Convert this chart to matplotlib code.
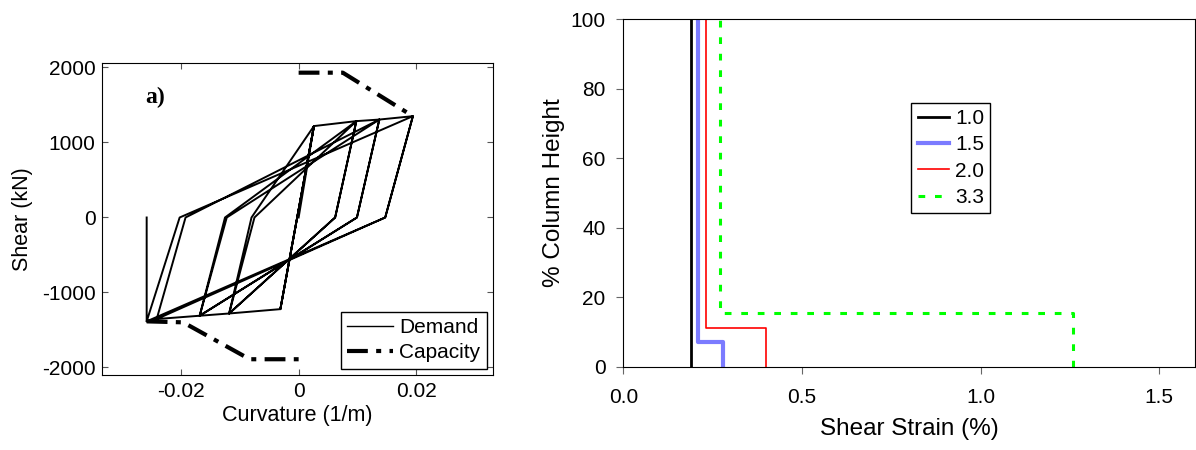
import numpy as np
import matplotlib
matplotlib.use('Agg')
import matplotlib.pyplot as plt
from matplotlib.lines import Line2D

plt.rcParams['font.family'] = ['Liberation Sans', 'DejaVu Sans']
plt.rcParams['axes.unicode_minus'] = False

# ---- panel a) : shear vs curvature hysteresis ----
demand_curv = [0.0, 0.0026, -0.0031, 0.0026, -0.0031, -0.0118, -0.0080, 0.0026, 0.0098,
               0.0062, -0.0118, -0.0075, 0.0098, 0.0062, -0.0118, -0.0168, -0.0125,
               0.0098, 0.0137, 0.0099, -0.0168, -0.0122, 0.0137, 0.0099, -0.0168,
               -0.0241, -0.0192, 0.0137, 0.0194, 0.0147, -0.0241, -0.0258, -0.0202,
               0.0194, 0.0147, -0.0258, -0.0258]
demand_shear = [0, 1219, -1222, 1219, -1222, -1280, 0, 1219, 1285,
                0, -1280, 0, 1285, 0, -1280, -1310, 0,
                1285, 1306, 0, -1310, 0, 1306, 0, -1310,
                -1354, 0, 1306, 1351, 0, -1354, -1385, 0,
                1351, 0, -1385, 0]

cap_pos_curv = [0.0, 0.0075, 0.0194]
cap_pos_shear = [1931, 1931, 1351]
cap_neg_curv = [-0.0258, -0.0196, -0.0083, 0.0]
cap_neg_shear = [-1385, -1398, -1890, -1890]

# ---- panel b) : shear strain profiles ----
ratios = ['1.0', '1.5', '2.0', '3.3']
strain_10 = [0.190, 0.190]
height_10 = [0, 100]
strain_15 = [0.278, 0.278, 0.209, 0.209]
height_15 = [0, 7.2, 7.2, 100]
strain_20 = [0.400, 0.400, 0.230, 0.230]
height_20 = [0, 11.0, 11.0, 100]
strain_33 = [1.259, 1.259, 0.269, 0.269]
height_33 = [0, 15.5, 15.5, 100]

fig = plt.figure(figsize=(11.96, 4.5), dpi=100)

ax1 = fig.add_axes([0.0857, 0.1667, 0.3265, 0.6933])
ax1.plot(demand_curv, demand_shear, color='black', lw=1.4)
cap_style = dict(color='black', lw=3, linestyle=(0, (5, 2, 1.2, 2)))
ax1.plot(cap_pos_curv, cap_pos_shear, **cap_style)
ax1.plot(cap_neg_curv, cap_neg_shear, **cap_style)
ax1.set_xlim(-0.0333, 0.033)
ax1.set_ylim(-2100, 2060)
ax1.set_xticks([-0.02, 0, 0.02])
ax1.set_xticklabels(['-0.02', '0', '0.02'])
ax1.set_yticks([-2000, -1000, 0, 1000, 2000])
ax1.tick_params(direction='in', length=4, top=True, right=True, labelsize=15,
                color='#555555', pad=5)
ax1.set_xlabel('Curvature (1/m)', fontsize=15.5, labelpad=3)
ax1.set_ylabel('Shear (kN)', fontsize=15.5, labelpad=6)
ax1.text(-0.0261, 1600, 'a)', fontsize=17, fontweight='bold',
         family='Liberation Serif', va='center', ha='left')
handles = [Line2D([], [], color='black', lw=1.0),
           Line2D([], [], **cap_style)]
leg1 = ax1.legend(handles, ['Demand', 'Capacity'], loc='lower right', fontsize=15,
                  fancybox=False, edgecolor='black', framealpha=1,
                  borderaxespad=0.3, handlelength=2.2, handletextpad=0.3,
                  borderpad=0.3, labelspacing=0.3)
leg1.get_frame().set_linewidth(1.0)

ax2 = fig.add_axes([0.5213, 0.1851, 0.4778, 0.772])
ax2.plot(strain_10, height_10, color='black', lw=2.0, label=ratios[0])
ax2.plot(strain_15, height_15, color='#7b7bff', lw=3.0, label=ratios[1])
ax2.plot(strain_20, height_20, color='red', lw=1.2, label=ratios[2])
ax2.plot(strain_33, height_33, color='#00ff00', lw=2.2, linestyle=(0, (2.2, 3.2)),
         label=ratios[3])
ax2.set_xlim(0, 1.6)
ax2.set_ylim(0, 100)
ax2.set_xticks([0.0, 0.5, 1.0, 1.5])
ax2.set_xticklabels(['0.0', '0.5', '1.0', '1.5'])
ax2.set_yticks([0, 20, 40, 60, 80, 100])
ax2.tick_params(direction='out', length=5, labelsize=15, color='#666666', pad=10)
ax2.tick_params(axis='y', pad=8)
ax2.set_xlabel('Shear Strain (%)', fontsize=17.5, labelpad=8)
ax2.set_ylabel('% Column Height', fontsize=17.5, labelpad=4)
leg2 = ax2.legend(loc='center', bbox_to_anchor=(0.573, 0.601), fontsize=15,
                  fancybox=False, edgecolor='black', framealpha=1,
                  handlelength=1.5, handletextpad=0.3, borderpad=0.3,
                  labelspacing=0.35)
leg2.get_frame().set_linewidth(1.0)

fig.savefig('out.png', dpi=100)
